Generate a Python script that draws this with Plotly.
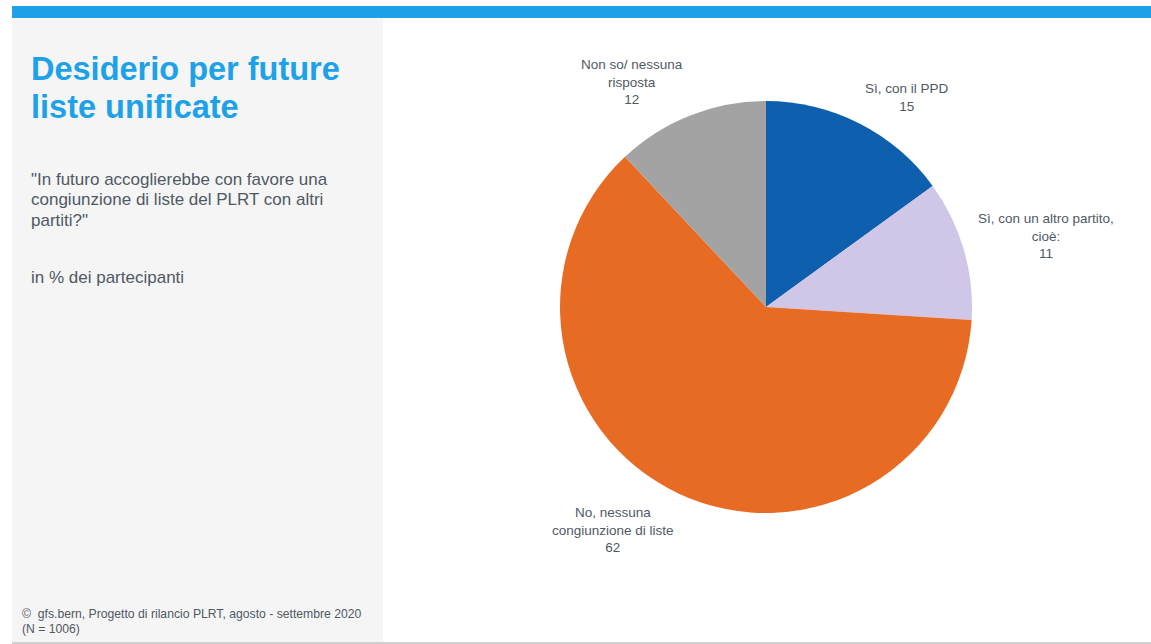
import plotly.graph_objects as go

W, H = 1151, 644

categories = ["Sì, con il PPD", "Sì, con un altro partito,<br>cioè:", "No, nessuna<br>congiunzione di liste", "Non so/ nessuna<br>risposta"]
values = [15, 11, 62, 12]
colors = ["#0E5FAD", "#D0C6E8", "#E86B24", "#A3A3A3"]
# label anchor positions (pixels) for the outside labels
label_px = [(907, 97), (1046, 236), (613, 530), (632, 82)]

def px(x): return x / W
def py(y): return 1 - y / H

fig = go.Figure()
fig.add_trace(go.Pie(
    values=values, labels=categories, marker=dict(colors=colors, line=dict(width=0)),
    sort=False, direction="clockwise", rotation=0, textinfo="none", hoverinfo="label+value",
    domain=dict(x=[px(560), px(972)], y=[py(513), py(101)]), showlegend=False,
))

shapes = [
    dict(type="rect", xref="paper", yref="paper", x0=px(12), x1=px(383), y0=py(642), y1=py(18),
         fillcolor="#F5F5F5", line=dict(width=0), layer="below"),
    dict(type="rect", xref="paper", yref="paper", x0=px(12), x1=1, y0=py(18), y1=py(6),
         fillcolor="#1DA1E8", line=dict(width=0), layer="below"),
    dict(type="rect", xref="paper", yref="paper", x0=px(12), x1=1, y0=0, y1=py(642),
         fillcolor="#D0D0D0", line=dict(width=0), layer="below"),
]

ann = []
txtcol = "#4F5964"
for cat, v, (lx, ly) in zip(categories, values, label_px):
    ann.append(dict(x=px(lx), y=py(ly), xref="paper", yref="paper", showarrow=False,
                    text=f"{cat}<br>{v}", align="center", xanchor="center", yanchor="middle",
                    font=dict(family="Liberation Sans Narrow, Arial Narrow, Liberation Sans, Arial", size=13.5, color=txtcol)))

def left_lines(lines, y0, dy, size, color, bold=False, x=29):
    for i, t in enumerate(lines):
        ann.append(dict(x=px(x), y=py(y0 + i * dy), xref="paper", yref="paper", showarrow=False,
                        xanchor="left", yanchor="middle", align="left",
                        text=f"<b>{t}</b>" if bold else t,
                        font=dict(family="Liberation Sans, Arial", size=size, color=color)))

left_lines(["Desiderio per future", "liste unificate"], 69, 38, 32.5, "#1DA1E8", bold=True)
left_lines(['"In futuro accoglierebbe con favore una', 'congiunzione di liste del PLRT con altri', 'partiti?"'],
           180, 20, 17, txtcol)
left_lines(["in % dei partecipanti"], 277, 20, 17, txtcol)
left_lines(["©  gfs.bern, Progetto di rilancio PLRT, agosto - settembre 2020", "(N = 1006)"],
           614, 15, 12.2, txtcol, x=20)

fig.update_layout(width=W, height=H, margin=dict(l=0, r=0, t=0, b=0), paper_bgcolor="white",
                  plot_bgcolor="white", shapes=shapes, annotations=ann)
fig.write_html("out.html", config={"displayModeBar": False},
               post_script="document.body.style.margin='0';document.body.style.overflow='hidden';")
